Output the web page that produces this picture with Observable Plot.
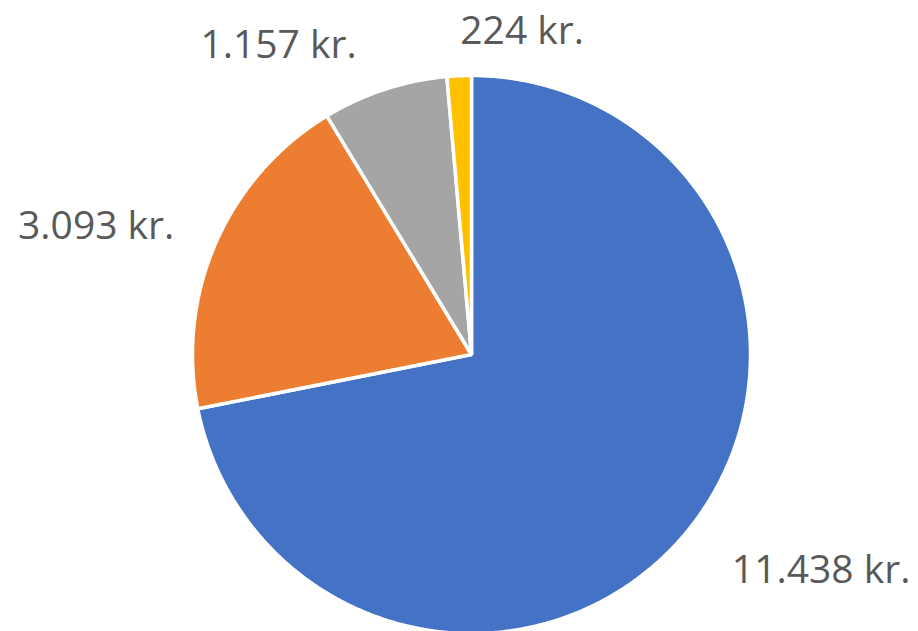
<!DOCTYPE html>
<html>
<head>
<meta charset="utf-8">
<script src="https://cdn.jsdelivr.net/npm/d3@7"></script>
<script src="https://cdn.jsdelivr.net/npm/@observablehq/plot@0.6"></script>
<style>
  html, body { margin: 0; padding: 0; background: #fff; }
  #chart { width: 918px; height: 631px; }
</style>
</head>
<body>
<div id="chart"></div>
<script>
// ---- data ----
const categories = ["Post 1", "Post 2", "Post 3", "Post 4"];
const values = [11438, 3093, 1157, 224];
const valueLabels = ["11.438 kr.", "3.093 kr.", "1.157 kr.", "224 kr."];
const colors = ["#4472C4", "#ED7D31", "#A5A5A5", "#FFC000"];

// ---- layout (pixel units, y up, pie centre at origin) ----
const W = 918, H = 631;
const cx = 471, cy = 354, R = 279;
// label nudges (px) relative to the arc point at each slice's mid angle
const labelNudge = [[134, -39], [-120, 16], [-106, 44], [63, 44]];

const arcs = d3.pie().sort(null).value(d => d.value)(
  categories.map((c, i) => ({name: c, value: values[i], label: valueLabels[i]}))
);

function slicePoints(a) {
  const pts = [{x: 0, y: 0}];
  const n = Math.max(2, Math.ceil((a.endAngle - a.startAngle) / (Math.PI / 360)));
  for (let k = 0; k <= n; k++) {
    const t = a.startAngle + (a.endAngle - a.startAngle) * k / n;
    pts.push({x: R * Math.sin(t), y: R * Math.cos(t)});
  }
  return pts;
}

const marks = [];
arcs.forEach((a, i) => {
  marks.push(Plot.line(slicePoints(a), {
    x: "x", y: "y", curve: "linear-closed",
    fill: colors[i], stroke: "white", strokeWidth: 3.5, strokeLinejoin: "miter"
  }));
});
arcs.forEach((a, i) => {
  const m = (a.startAngle + a.endAngle) / 2;
  marks.push(Plot.text([a], {
    x: () => R * Math.sin(m) + labelNudge[i][0],
    y: () => R * Math.cos(m) + labelNudge[i][1],
    text: d => d.data.label,
    textAnchor: "middle", lineAnchor: "middle",
    fontSize: 39, fill: "#595959"
  }));
});

const chart = Plot.plot({
  width: W, height: H,
  margin: 0,
  x: {domain: [-cx, W - cx], range: [0, W], axis: null},
  y: {domain: [-(H - cy), cy], range: [H, 0], axis: null},
  style: {fontFamily: "'Open Sans', sans-serif", background: "white"},
  marks
});
document.getElementById("chart").appendChild(chart);
</script>
</body>
</html>
